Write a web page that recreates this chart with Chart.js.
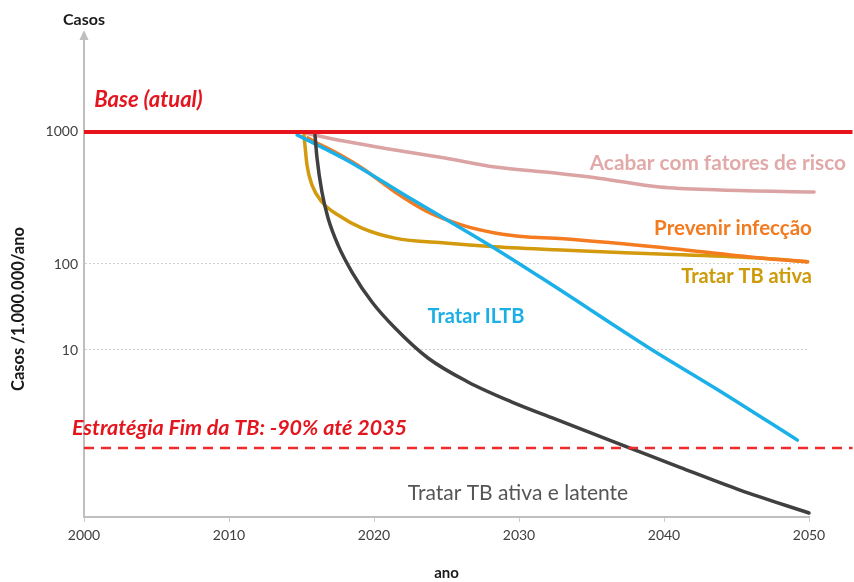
<!DOCTYPE html>
<html>
<head>
<meta charset="utf-8">
<script src="https://cdn.jsdelivr.net/npm/chart.js@4/dist/chart.umd.min.js"></script>
<style>
  html, body { margin: 0; padding: 0; background: #ffffff; }
  canvas { display: block; }
</style>
</head>
<body>
<canvas id="chart" width="854" height="582"></canvas>
<script>
const FONT = 'Lato, "Open Sans", "DejaVu Sans", sans-serif';

// Axis ticks
const xTickYears = [2000, 2010, 2020, 2030, 2040, 2050];
const yTickValues = [10, 100, 1000];

// Reference lines (cases per 1,000,000 per year)
const baseYears = [2000, 2053];
const baseValues = [1000, 1000];
const targetYears = [2000, 2053];
const targetValues = [0.71, 0.71];

// Acabar com fatores de risco
const riskYears  = [2014.9, 2016.83, 2021.45, 2024.9, 2028.34, 2032.48, 2035.6, 2039.7, 2043.9, 2050.35];
const riskValues = [1000, 901, 731, 635, 543, 489, 445, 383, 364, 351];

// Prevenir infecção
const infectionYears  = [2015.45, 2015.93, 2017.31, 2019.17, 2021.45, 2023.72, 2026.07, 2028.34, 2030.62, 2032.48, 2039.7, 2046.6, 2049.9];
const infectionValues = [901, 840, 705, 534, 351, 248, 197, 172, 160, 157, 134, 111, 104];

// Tratar TB ativa
const activeYears  = [2015.17, 2015.38, 2015.72, 2016.41, 2017.52, 2019.17, 2021.45, 2024.9, 2028.34, 2032.48, 2039.7, 2046.6, 2049.9];
const activeValues = [950, 562, 397, 295, 235, 187, 157, 144, 135, 128, 119, 111, 104];

// Tratar ILTB
const latentYears  = [2014.7, 2018.1, 2022.7, 2028.2, 2032.1, 2039.0, 2043.9, 2049.2];
const latentValues = [950, 614, 305, 134, 60, 10.5, 3.3, 0.89];

// Tratar TB ativa e latente
const bothYears  = [2015.93, 2016.07, 2016.41, 2016.83, 2017.52, 2018.48, 2019.86, 2021.45, 2023.72, 2026.48, 2029.52, 2032.48, 2037.66, 2041.1, 2045.24, 2050.0];
const bothValues = [949, 635, 351, 223, 139, 80.7, 36.1, 18.0, 8.07, 4.25, 2.48, 1.58, 0.71, 0.41, 0.215, 0.112];

// Vertical axis: logarithmic inside each decade, each decade with its own height
// [log10(value), fraction of the axis height measured from the bottom]
const yDecadeStops = [[-1, 0], [0, 0.168], [1, 0.3465], [2, 0.5249], [3, 0.7988], [4, 1]];

class DecadeLogScale extends Chart.LogarithmicScale {
  static id = 'decadeLog';
  _warp(l) {
    const s = yDecadeStops;
    let i = 0;
    while (i < s.length - 2 && l > s[i + 1][0]) i++;
    const [l0, f0] = s[i], [l1, f1] = s[i + 1];
    return f0 + (l - l0) * (f1 - f0) / (l1 - l0);
  }
  _unwarp(f) {
    const s = yDecadeStops;
    let i = 0;
    while (i < s.length - 2 && f > s[i + 1][1]) i++;
    const [l0, f0] = s[i], [l1, f1] = s[i + 1];
    return l0 + (f - f0) * (l1 - l0) / (f1 - f0);
  }
  getPixelForValue(value) {
    if (value === undefined || value === 0) value = this.min;
    if (value === null || isNaN(value)) return NaN;
    return this.getPixelForDecimal(this._warp(Math.log10(value)));
  }
  getValueForPixel(pixel) {
    return Math.pow(10, this._unwarp(this.getDecimalForPixel(pixel)));
  }
}
Chart.register(DecadeLogScale);

const pts = (xs, ys) => xs.map((x, i) => ({ x, y: ys[i] }));

const curve = (label, xs, ys, color) => ({
  label,
  data: pts(xs, ys),
  borderColor: color,
  borderWidth: 3.5,
  pointRadius: 0,
  cubicInterpolationMode: 'monotone',
  borderCapStyle: 'round',
  fill: false,
  clip: false
});

// Text drawn next to the curves, anchored in data coordinates
const curveLabels = [
  { text: 'Base (atual)', x: 2000.7, y: 2150, align: 'left', color: '#E3161F', font: 'italic bold 22px ' + FONT },
  { text: 'Acabar com fatores de risco', x: 2052.55, y: 582, align: 'right', color: '#E2A9A9', font: 'bold 20.8px ' + FONT },
  { text: 'Prevenir infecção', x: 2050.2, y: 187, align: 'right', color: '#F27A1F', font: 'bold 20.5px ' + FONT },
  { text: 'Tratar TB ativa', x: 2050.2, y: 72, align: 'right', color: '#CD9A08', font: 'bold 20px ' + FONT },
  { text: 'Tratar ILTB', x: 2027.03, y: 24.2, align: 'center', color: '#1BAFE6', font: 'bold 20px ' + FONT },
  { text: 'Tratar TB ativa e latente', x: 2029.93, y: 0.198, align: 'center', color: '#555555', font: '21px ' + FONT },
  { text: 'Estratégia Fim da TB: -90% até 2035', x: 1999.17, y: 1.24, align: 'left', color: '#E3161F', font: 'italic bold 21.5px ' + FONT }
];

const textPlugin = {
  id: 'chartText',
  afterDatasetsDraw(chart) {
    const { ctx, scales: { x, y } } = chart;
    ctx.save();
    ctx.textBaseline = 'middle';
    curveLabels.forEach(l => {
      ctx.font = l.font;
      ctx.fillStyle = l.color;
      ctx.textAlign = l.align;
      ctx.fillText(l.text, x.getPixelForValue(l.x), y.getPixelForValue(l.y));
    });
    ctx.restore();
  },
  afterDraw(chart) {
    const { ctx, chartArea } = chart;
    const ax = chartArea.left;
    ctx.save();
    // arrow head at the top of the vertical axis
    ctx.fillStyle = '#BFBFBF';
    ctx.beginPath();
    ctx.moveTo(ax, chartArea.top - 5);
    ctx.lineTo(ax - 4.5, chartArea.top + 5);
    ctx.lineTo(ax + 4.5, chartArea.top + 5);
    ctx.closePath();
    ctx.fill();
    // unit caption above the axis
    ctx.fillStyle = '#1a1a1a';
    ctx.font = 'bold 16px ' + FONT;
    ctx.textAlign = 'center';
    ctx.textBaseline = 'middle';
    ctx.fillText('Casos', ax, chartArea.top - 15);
    // vertical axis title
    ctx.translate(19, chartArea.bottom - 208);
    ctx.rotate(-Math.PI / 2);
    ctx.font = 'bold 16.5px ' + FONT;
    ctx.fillText('Casos /1.000.000/ano', 0, 0);
    ctx.restore();
  }
};

new Chart(document.getElementById('chart'), {
  type: 'line',
  data: {
    datasets: [
      { label: 'Base (atual)', data: pts(baseYears, baseValues), borderColor: '#E8141C', borderWidth: 4, pointRadius: 0, tension: 0, clip: false },
      { label: 'Estratégia Fim da TB', data: pts(targetYears, targetValues), borderColor: '#EE2A2A', borderWidth: 2.5, borderDash: [10, 7], pointRadius: 0, tension: 0, clip: false },
      curve('Tratar TB ativa e latente', bothYears, bothValues, '#404040'),
      curve('Tratar ILTB', latentYears, latentValues, '#1BB0E8'),
      curve('Prevenir infecção', infectionYears, infectionValues, '#F47B20'),
      curve('Tratar TB ativa', activeYears, activeValues, '#D29A0C'),
      curve('Acabar com fatores de risco', riskYears, riskValues, '#DBA3A3')
    ]
  },
  options: {
    responsive: false,
    animation: false,
    events: [],
    layout: { padding: { left: 0, right: 45, top: 35, bottom: 0 } },
    plugins: { legend: { display: false }, tooltip: { enabled: false } },
    scales: {
      x: {
        type: 'linear',
        min: 2000,
        max: 2050,
        afterBuildTicks: s => { s.ticks = xTickYears.map(v => ({ value: v })); },
        afterFit: s => { s.height = 65; },
        ticks: { callback: v => String(v), color: '#404040', font: { family: FONT, size: 14 }, padding: 5, maxRotation: 0 },
        grid: { drawOnChartArea: false, drawTicks: true, tickLength: 5, color: '#cccccc' },
        border: { color: '#BFBFBF', width: 2 },
        title: { display: true, text: 'ano', color: '#1a1a1a', font: { family: FONT, size: 15, weight: 'bold' }, padding: { top: 14, bottom: 0 } }
      },
      y: {
        type: 'decadeLog',
        min: 0.1,
        max: 10000,
        afterBuildTicks: s => { s.ticks = yTickValues.map(v => ({ value: v })); },
        afterFit: s => { s.width = 84; },
        ticks: { callback: v => String(v), color: '#404040', font: { family: FONT, size: 14 }, padding: 6 },
        grid: { color: '#cfcfcf', lineWidth: 1, drawTicks: false },
        border: { color: '#BFBFBF', width: 2, dash: [2, 2] }
      }
    }
  },
  plugins: [textPlugin]
});
</script>
</body>
</html>
